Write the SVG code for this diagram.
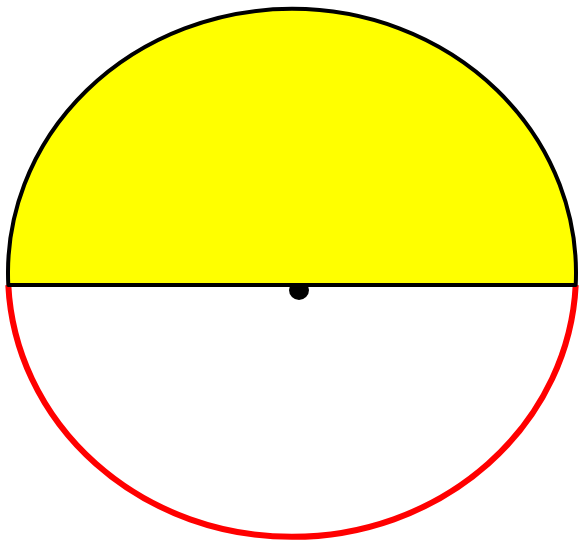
<svg xmlns="http://www.w3.org/2000/svg" width="579" height="543" viewBox="0 0 579 543">
<style>
.outer{fill:none;stroke:#ff0000;stroke-width:6}
.half{fill:#ffff00;stroke:#000000;stroke-width:4;stroke-linejoin:round}
.dot{fill:#000000}
</style>
<rect width="579" height="543" fill="#ffffff"/>
<g id="circle">
<path class="outer" d="M 8.3 285 A 284 264 0 0 0 575.7 285"/>
</g>
<g id="center">
<circle class="dot" cx="299" cy="290" r="10"/>
</g>
<g id="half">
<path class="half" d="M 8.3 285 A 284 264 0 1 1 575.7 285 Z"/>
</g>
<g id="connectors"></g>
</svg>
